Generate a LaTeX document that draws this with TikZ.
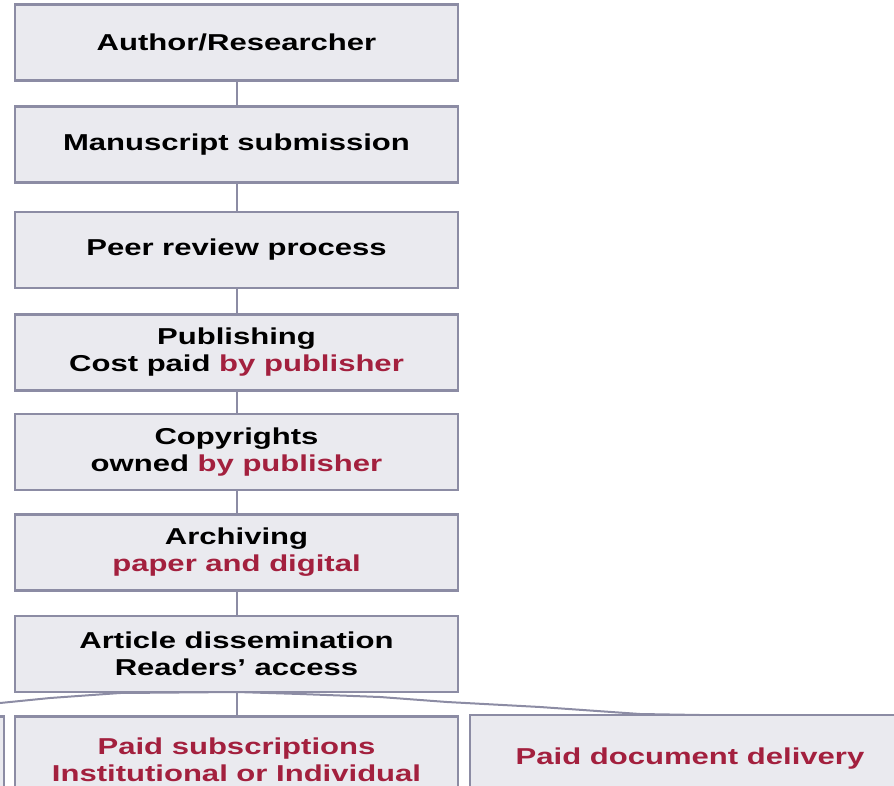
\documentclass[tikz,border=0pt]{standalone}
\usepackage{fontspec}
\setmainfont[FakeStretch=1.35]{Liberation Sans}
\definecolor{boxfill}{HTML}{EAEAEF}
\definecolor{boxline}{HTML}{8C8CA4}
\definecolor{redtxt}{HTML}{A3203E}
\tikzset{
  stepbox/.style={draw=boxline, fill=boxfill, line width=2.5pt, minimum width=443pt,
    minimum height=76pt, align=center, font=\fontsize{23}{27}\selectfont\bfseries,
    text=black, inner sep=0pt},
  lowbox/.style={stepbox, minimum height=87pt},
  link/.style={draw=boxline, line width=2pt}
}
\begin{document}
\begin{tikzpicture}[x=1pt,y=-1pt]
\useasboundingbox (0,0) rectangle (894,786);
\clip (0,0) rectangle (894,786);
\node[stepbox] (b1) at (236.5,42.5) {Author/Researcher};
\node[stepbox] (b2) at (236.5,144.5) {Manuscript submission};
\node[stepbox] (b3) at (236.5,250) {Peer review process};
\node[stepbox] (b4) at (236.5,352.5) {Publishing\\Cost paid \textcolor{redtxt}{by publisher}};
\node[stepbox] (b5) at (236.5,452) {Copyrights\\owned \textcolor{redtxt}{by publisher}};
\node[stepbox] (b6) at (236.5,552.5) {Archiving\\\textcolor{redtxt}{paper and digital}};
\node[stepbox] (b7) at (236.5,654) {Article dissemination\\Readers' access};
\node[lowbox, text=redtxt] (m) at (236.5,760) {Paid subscriptions\\Institutional or Individual};
\node[lowbox, minimum width=440pt, text=redtxt] (r) at (690,758.5) {Paid document delivery};
\node[lowbox, minimum width=44pt] (l) at (-18,760) {};
\draw[link] (b1) -- (b2);
\draw[link] (b2) -- (b3);
\draw[link] (b3) -- (b4);
\draw[link] (b4) -- (b5);
\draw[link] (b5) -- (b6);
\draw[link] (b6) -- (b7);
\draw[link] (b7) -- (m);
\coordinate (c0) at (0,703);
\coordinate (c1) at (50,698);
\coordinate (c2) at (120,693);
\coordinate (c3) at (237,692);
\coordinate (c4) at (300,694);
\coordinate (c5) at (380,697);
\coordinate (c6) at (447,702);
\coordinate (c7) at (540,707);
\coordinate (c8) at (640,714);
\coordinate (c9) at (700,715);
\draw[link] (c0) -- (c1) -- (c2) -- (c3) -- (c4) -- (c5) -- (c6) -- (c7) -- (c8) -- (c9);
\end{tikzpicture}
\end{document}
